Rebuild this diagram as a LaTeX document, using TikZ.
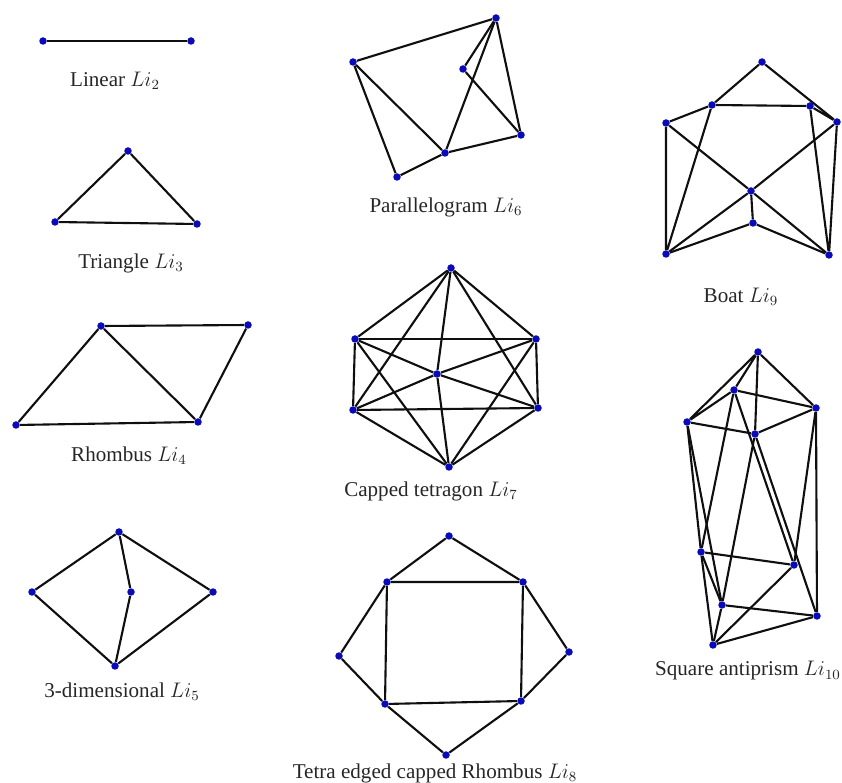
\documentclass[tikz,border=0pt]{standalone}
\usepackage{amsmath, amssymb}
\usepackage{xcolor}
\usepackage{fontspec}
\setmainfont{Liberation Serif}
\usetikzlibrary{backgrounds}
\definecolor{vtxBlue}{RGB}{10,10,185}
\definecolor{edgeBlack}{RGB}{15,15,15}
\tikzset{
  vtx/.style={circle, fill=vtxBlue, inner sep=0pt, minimum size=0.15cm},
  edge/.style={draw=edgeBlack, line width=1.2pt},
  lbl/.style={font=\fontsize{12}{14}\selectfont, text=black!85, inner sep=0pt}
}

\begin{document}
\begin{tikzpicture}[x=0.02cm, y=-0.02cm]
\useasboundingbox (0,0) rectangle (842,783);
\node[vtx] (linA) at (43,41) {};
\node[vtx] (linB) at (191,41) {};
\node[lbl] (linLabel) at (115,81) {Linear $Li_2$};
\node[vtx] (triA) at (128,151) {};
\node[vtx] (triB) at (55,222) {};
\node[vtx] (triC) at (197,224) {};
\node[lbl] (triLabel) at (131,263) {Triangle $Li_3$};
\node[vtx] (rhoA) at (101,326) {};
\node[vtx] (rhoB) at (248,325) {};
\node[vtx] (rhoC) at (16,425) {};
\node[vtx] (rhoD) at (198,422) {};
\node[lbl] (rhoLabel) at (129,456) {Rhombus $Li_4$};
\node[vtx] (dimA) at (119,532) {};
\node[vtx] (dimB) at (32,592) {};
\node[vtx] (dimC) at (131,592) {};
\node[vtx] (dimD) at (213,592) {};
\node[vtx] (dimE) at (115,666) {};
\node[lbl] (dimLabel) at (122,692) {3-dimensional $Li_5$};
\node[vtx] (parA) at (496,18) {};
\node[vtx] (parB) at (353,62) {};
\node[vtx] (parC) at (463,69) {};
\node[vtx] (parD) at (521,135) {};
\node[vtx] (parE) at (445,153) {};
\node[vtx] (parF) at (397,177) {};
\node[lbl] (parLabel) at (446,207) {Parallelogram $Li_6$};
\node[vtx] (capA) at (451,268) {};
\node[vtx] (capB) at (355,339) {};
\node[vtx] (capC) at (536,339) {};
\node[vtx] (capD) at (437,374) {};
\node[vtx] (capE) at (353,410) {};
\node[vtx] (capF) at (538,408) {};
\node[vtx] (capG) at (449,467) {};
\node[lbl] (capLabel) at (431,491) {Capped tetragon $Li_7$};
\node[vtx] (tetA) at (449,536) {};
\node[vtx] (tetB) at (387,582) {};
\node[vtx] (tetC) at (523,582) {};
\node[vtx] (tetD) at (339,656) {};
\node[vtx] (tetE) at (569,652) {};
\node[vtx] (tetF) at (385,704) {};
\node[vtx] (tetG) at (521,701) {};
\node[vtx] (tetH) at (446,755) {};
\node[lbl] (tetLabel) at (435,773) {Tetra edged capped Rhombus $Li_8$};
\node[vtx] (boaA) at (762,62) {};
\node[vtx] (boaB) at (712,105) {};
\node[vtx] (boaC) at (810,106) {};
\node[vtx] (boaD) at (666,123) {};
\node[vtx] (boaE) at (837,122) {};
\node[vtx] (boaF) at (751,191) {};
\node[vtx] (boaG) at (753,223) {};
\node[vtx] (boaH) at (666,254) {};
\node[vtx] (boaI) at (829,255) {};
\node[lbl] (boaLabel) at (741,297) {Boat $Li_9$};
\node[vtx] (antA) at (758,352) {};
\node[vtx] (antB) at (734,390) {};
\node[vtx] (antC) at (816,408) {};
\node[vtx] (antD) at (687,422) {};
\node[vtx] (antE) at (755,434) {};
\node[vtx] (antF) at (701,552) {};
\node[vtx] (antG) at (794,565) {};
\node[vtx] (antH) at (722,605) {};
\node[vtx] (antI) at (817,616) {};
\node[vtx] (antJ) at (713,645) {};
\node[lbl] (antLabel) at (748,671) {Square antiprism $Li_{10}$};
\begin{scope}[on background layer]
\draw[edge] (linA) -- (linB);
\draw[edge] (triA) -- (triB) -- (triC) -- (triA);
\draw[edge] (rhoA) -- (rhoB) -- (rhoD) -- (rhoC) -- (rhoA);
\draw[edge] (rhoA) -- (rhoD);
\draw[edge] (dimA) -- (dimB) -- (dimE) -- (dimD) -- (dimA);
\draw[edge] (dimA) -- (dimC) -- (dimE);
\draw[edge] (parA) -- (parB) -- (parF) -- (parE) -- (parD) -- (parA);
\draw[edge] (parA) -- (parC) -- (parD);
\draw[edge] (parA) -- (parE) -- (parB);
\draw[edge] (capA) -- (capB) -- (capE) -- (capG) -- (capF) -- (capC) -- (capA);
\draw[edge] (capB) -- (capC);
\draw[edge] (capE) -- (capF);
\draw[edge] (capA) -- (capD) -- (capG);
\draw[edge] (capA) -- (capE);
\draw[edge] (capA) -- (capF);
\draw[edge] (capB) -- (capG);
\draw[edge] (capC) -- (capG);
\draw[edge] (capB) -- (capD) -- (capF);
\draw[edge] (capC) -- (capD) -- (capE);
\draw[edge] (tetA) -- (tetB) -- (tetD) -- (tetF) -- (tetH) -- (tetG) -- (tetE) -- (tetC) -- (tetA);
\draw[edge] (tetB) -- (tetC) -- (tetG) -- (tetF) -- (tetB);
\draw[edge] (boaA) -- (boaB) -- (boaC) -- (boaE) -- (boaA);
\draw[edge] (boaB) -- (boaD) -- (boaH) -- (boaB);
\draw[edge] (boaD) -- (boaF) -- (boaI);
\draw[edge] (boaE) -- (boaF) -- (boaH);
\draw[edge] (boaF) -- (boaG);
\draw[edge] (boaH) -- (boaG) -- (boaI);
\draw[edge] (boaC) -- (boaI) -- (boaE);
\draw[edge] (antA) -- (antD) -- (antB) -- (antA);
\draw[edge] (antA) -- (antC) -- (antB);
\draw[edge] (antA) -- (antE);
\draw[edge] (antD) -- (antE) -- (antC);
\draw[edge] (antD) -- (antF) -- (antJ);
\draw[edge] (antD) -- (antH);
\draw[edge] (antB) -- (antF);
\draw[edge] (antB) -- (antG);
\draw[edge] (antE) -- (antH);
\draw[edge] (antE) -- (antI);
\draw[edge] (antC) -- (antG);
\draw[edge] (antC) -- (antI);
\draw[edge] (antF) -- (antG);
\draw[edge] (antF) -- (antH) -- (antJ);
\draw[edge] (antG) -- (antJ) -- (antI);
\draw[edge] (antH) -- (antI);
\end{scope}
\end{tikzpicture}
\end{document}
